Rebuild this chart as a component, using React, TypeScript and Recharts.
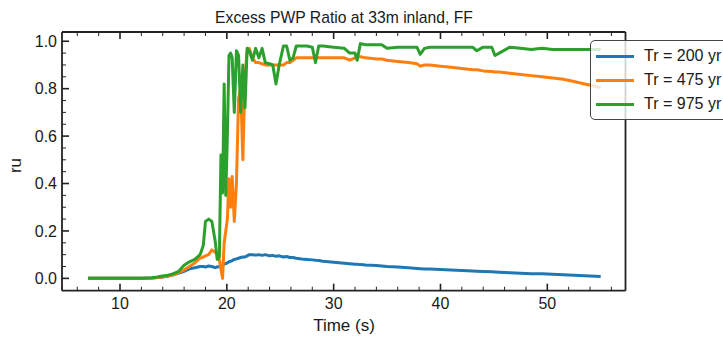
import { LineChart, Line, XAxis, YAxis, Legend } from "recharts"

// time (s) and excess pore pressure ratio ru for each return period
const time = [
  7, 8, 9, 10, 11, 12, 13, 13.5, 14, 14.5, 15, 15.5, 16, 16.5, 17, 17.5, 17.8, 18.0, 18.3, 18.6,
  18.9, 19.1, 19.3, 19.45, 19.6, 19.75, 19.9, 20.05, 20.2, 20.35, 20.5, 20.7, 20.9, 21.1, 21.3, 21.5,
  21.7, 21.9, 22.1, 22.4, 22.7, 23.0, 23.3, 23.6, 24.0, 24.3, 24.6, 24.9, 25.3, 25.6, 25.9, 26.2,
  26.5, 27, 27.5, 28, 28.3, 28.6, 29, 30, 31, 31.5, 32, 32.2, 32.5, 33, 34, 34.5, 35, 36,
  37, 37.8, 38.1, 38.5, 39, 40, 41, 42, 43, 43.4, 44, 44.8, 45.1, 45.5, 46.5, 47.5, 48.5, 49.5,
  50.5, 51.5, 52.5, 53.5, 54.5, 55,
]

const tr200 = [
  0, 0, 0, 0, 0, 0, 0.002, 0.004, 0.006, 0.01, 0.015, 0.022, 0.03, 0.04, 0.045, 0.05, 0.05, 0.048, 0.052, 0.05,
  0.045, 0.048, 0.05, 0.055, 0.055, 0.06, 0.062, 0.065, 0.07, 0.072, 0.075, 0.08, 0.082, 0.085, 0.088, 0.09,
  0.09, 0.095, 0.1, 0.1, 0.098, 0.1, 0.097, 0.1, 0.095, 0.097, 0.093, 0.095, 0.09, 0.092, 0.088, 0.088,
  0.085, 0.082, 0.08, 0.078, 0.076, 0.075, 0.072, 0.068, 0.064, 0.062, 0.06, 0.06, 0.058, 0.056, 0.054, 0.052, 0.05, 0.048,
  0.045, 0.042, 0.041, 0.04, 0.039, 0.037, 0.035, 0.033, 0.031, 0.03, 0.029, 0.028, 0.027, 0.026, 0.024, 0.022, 0.02, 0.019,
  0.017, 0.015, 0.013, 0.011, 0.009, 0.008,
]

const tr475 = [
  0, 0, 0, 0, 0, 0, 0.002, 0.004, 0.006, 0.01, 0.015, 0.025, 0.035, 0.05, 0.065, 0.085, 0.09, 0.095, 0.1, 0.12,
  0.11, 0.1, 0.08, 0.04, 0.0, 0.15, 0.2, 0.25, 0.42, 0.3, 0.43, 0.24, 0.4, 0.76, 0.8, 0.5,
  0.85, 0.96, 0.97, 0.93, 0.91, 0.91, 0.905, 0.9, 0.9, 0.9, 0.9, 0.9, 0.9, 0.91, 0.91, 0.92,
  0.93, 0.93, 0.93, 0.93, 0.93, 0.93, 0.93, 0.93, 0.93, 0.92, 0.93, 0.935, 0.935, 0.93, 0.925, 0.925, 0.92, 0.915,
  0.91, 0.905, 0.895, 0.9, 0.9, 0.895, 0.89, 0.885, 0.88, 0.88, 0.875, 0.872, 0.87, 0.87, 0.865, 0.86, 0.855, 0.85,
  0.845, 0.84, 0.83, 0.82, 0.81, 0.805,
]

const tr975 = [
  0, 0, 0, 0, 0, 0, 0.003, 0.006, 0.01, 0.013, 0.02, 0.03, 0.055, 0.07, 0.08, 0.1, 0.14, 0.24, 0.25, 0.24,
  0.16, 0.08, 0.09, 0.52, 0.36, 0.82, 0.35, 0.6, 0.94, 0.95, 0.93, 0.7, 0.96, 0.94, 0.7, 0.9,
  0.72, 0.97, 0.96, 0.92, 0.97, 0.93, 0.97, 0.91, 0.905, 0.9, 0.82, 0.9, 0.98, 0.98, 0.92, 0.93,
  0.98, 0.98, 0.98, 0.975, 0.91, 0.98, 0.98, 0.975, 0.97, 0.95, 0.95, 0.92, 0.99, 0.985, 0.985, 0.985, 0.97, 0.975,
  0.975, 0.975, 0.945, 0.97, 0.975, 0.975, 0.975, 0.975, 0.975, 0.96, 0.975, 0.975, 0.94, 0.95, 0.975, 0.97, 0.965, 0.97,
  0.965, 0.965, 0.965, 0.965, 0.965, 0.965,
]

const xTicks = [6, 8, 10, 12, 14, 16, 18, 20, 22, 24, 26, 28, 30, 32, 34, 36, 38, 40, 42, 44, 46, 48, 50, 52, 54, 56]
const yTicks = [0, 0.05, 0.1, 0.15, 0.2, 0.25, 0.3, 0.35, 0.4, 0.45, 0.5, 0.55, 0.6, 0.65, 0.7, 0.75, 0.8, 0.85, 0.9, 0.95, 1.0]

const data = time.map((t, i) => ({ time: t, tr200: tr200[i], tr475: tr475[i], tr975: tr975[i] }))

const AXIS = "#222"
const TEXT = "#1a1a1a"
const FONT = '"Liberation Sans", Arial, sans-serif'
const xDomain: [number, number] = [4.57, 57.32]
const yDomain: [number, number] = [-0.052, 1.039]

const isMajorX = (v: number) => v % 10 === 0
const isMajorY = (v: number) => Math.round(v * 100) % 20 === 0

function XTick(props: any) {
  const { x, y, payload, side } = props
  const v = payload.value
  const major = isMajorX(v)
  const len = major ? 7 : 4
  const dir = side === "bottom" ? -1 : 1
  return (
    <g>
      <line x1={x} x2={x} y1={y} y2={y + dir * len} stroke={AXIS} strokeWidth={major ? 1.6 : 1} />
      {major && side === "bottom" && (
        <text x={x} y={y + 18} textAnchor="middle" fontSize={16} fill={TEXT} fontFamily={FONT}>
          {v}
        </text>
      )}
    </g>
  )
}

function YTick(props: any) {
  const { x, y, payload, side } = props
  const v = payload.value
  const major = isMajorY(v)
  const len = major ? 7 : 4
  const dir = side === "left" ? 1 : -1
  return (
    <g>
      <line x1={x} x2={x + dir * len} y1={y} y2={y} stroke={AXIS} strokeWidth={major ? 1.6 : 1} />
      {major && side === "left" && (
        <text x={x - 5} y={y + 5.6} textAnchor="end" fontSize={16} fill={TEXT} fontFamily={FONT}>
          {v.toFixed(1)}
        </text>
      )}
    </g>
  )
}

function LegendBox(props: any) {
  const { payload } = props
  return (
    <div
      style={{
        background: "rgba(255,255,255,0.8)",
        border: "1px solid #444",
        borderRadius: 5,
        padding: "3px 40px 3px 5px",
        fontFamily: FONT,
        fontSize: 16,
        color: TEXT,
        whiteSpace: "nowrap",
      }}
    >
      {(payload || []).map((e: any) => (
        <div key={e.value} style={{ display: "flex", alignItems: "center", height: 24 }}>
          <span style={{ display: "inline-block", width: 38, height: 3, background: e.color, marginRight: 10 }} />
          {e.value}
        </div>
      ))}
    </div>
  )
}

export default function App() {
  return (
    <div
      style={{
        position: "absolute",
        left: 0,
        top: 0,
        width: 723,
        height: 340,
        overflow: "hidden",
        background: "#fff",
        fontFamily: FONT,
        color: TEXT,
      }}
    >
      <div style={{ position: "absolute", left: 62, width: 564, top: 10.3, textAlign: "center", fontSize: 15.7, lineHeight: "15.7px" }}>
        Excess PWP Ratio at 33m inland, FF
      </div>
      <div style={{ position: "absolute", left: 62, width: 564, top: 316.7, textAlign: "center", fontSize: 17, lineHeight: "17px" }}>
        Time (s)
      </div>
      <div
        style={{
          position: "absolute",
          left: 15 - 20,
          top: 165 - 8.5,
          width: 40,
          height: 17,
          textAlign: "center",
          fontSize: 17,
          lineHeight: "17px",
          transform: "rotate(-90deg)",
        }}
      >
        ru
      </div>
      <LineChart width={723} height={340} data={data} margin={{ top: 31, right: 96.5, bottom: 48.3, left: 61 }}>
        <XAxis
          dataKey="time"
          type="number"
          domain={xDomain}
          ticks={xTicks}
          interval={0}
          height={1}
          tickSize={0}
          tickMargin={0}
          tickLine={false}
          axisLine={{ stroke: AXIS, strokeWidth: 1.8 }}
          tick={(p: any) => <XTick {...p} side="bottom" />}
        />
        <XAxis
          xAxisId="top"
          orientation="top"
          dataKey="time"
          type="number"
          domain={xDomain}
          ticks={xTicks}
          interval={0}
          height={1}
          tickSize={0}
          tickMargin={0}
          tickLine={false}
          axisLine={{ stroke: AXIS, strokeWidth: 1.8 }}
          tick={(p: any) => <XTick {...p} side="top" />}
        />
        <YAxis
          type="number"
          domain={yDomain}
          ticks={yTicks}
          interval={0}
          width={1}
          tickSize={0}
          tickMargin={0}
          tickLine={false}
          axisLine={{ stroke: AXIS, strokeWidth: 1.8 }}
          tick={(p: any) => <YTick {...p} side="left" />}
        />
        <YAxis
          yAxisId="right"
          orientation="right"
          type="number"
          domain={yDomain}
          ticks={yTicks}
          interval={0}
          width={1}
          tickSize={0}
          tickMargin={0}
          tickLine={false}
          axisLine={{ stroke: AXIS, strokeWidth: 1.8 }}
          tick={(p: any) => <YTick {...p} side="right" />}
        />
        <Line dataKey="tr200" name="Tr = 200 yr" stroke="#1f77b4" strokeWidth={3} dot={false} type="linear" isAnimationActive={false} strokeLinejoin="round" />
        <Line dataKey="tr475" name="Tr = 475 yr" stroke="#ff7f0e" strokeWidth={3} dot={false} type="linear" isAnimationActive={false} strokeLinejoin="round" />
        <Line dataKey="tr975" name="Tr = 975 yr" stroke="#2ca02c" strokeWidth={3} dot={false} type="linear" isAnimationActive={false} strokeLinejoin="round" />
        <Legend
          layout="vertical"
          align="center"
          verticalAlign="middle"
          content={LegendBox}
          wrapperStyle={{ left: 590, top: 40, width: 180 }}
        />
      </LineChart>
    </div>
  )
}
